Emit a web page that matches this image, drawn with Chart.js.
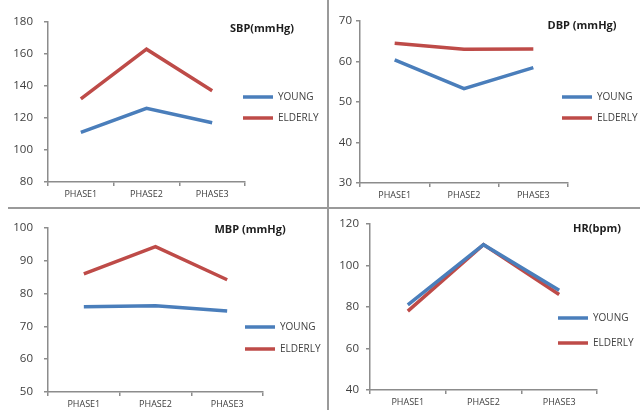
<!DOCTYPE html>
<html>
<head>
<meta charset="utf-8">
<script src="https://cdn.jsdelivr.net/npm/chart.js@4.4.1/dist/chart.umd.min.js"></script>
<style>
  html, body { margin: 0; padding: 0; background: #fff; }
  #app { position: relative; width: 640px; height: 410px; overflow: hidden; background: #fff; }
  #app canvas { position: absolute; }
  .sep { position: absolute; background: #9a9a9a; }
</style>
</head>
<body>
<div id="app">
  <canvas id="c-sbp" width="326" height="206" style="left:0;top:0"></canvas>
  <canvas id="c-dbp" width="310" height="206" style="left:330px;top:0"></canvas>
  <canvas id="c-mbp" width="326" height="200" style="left:0;top:210px"></canvas>
  <canvas id="c-hr" width="310" height="200" style="left:330px;top:210px"></canvas>
  <div class="sep" style="left:327px;top:0;width:2px;height:410px"></div>
  <div class="sep" style="left:8px;top:207px;width:632px;height:2px"></div>
</div>
<script>
// values
const phases = ["PHASE1", "PHASE2", "PHASE3"];
const groups = ["YOUNG", "ELDERLY"];

const sbpYoung = [111, 126, 117];
const sbpElderly = [132, 163, 137];
const sbpTicks = [80, 180, 20];

const dbpYoung = [60.4, 53.3, 58.5];
const dbpElderly = [64.5, 63, 63.1];
const dbpTicks = [30, 70, 10];

const mbpYoung = [76, 76.3, 74.7];
const mbpElderly = [86, 94.3, 84.2];
const mbpTicks = [50, 100, 10];

const hrYoung = [81, 110, 88];
const hrElderly = [78, 110, 86];
const hrTicks = [40, 120, 20];

const BLUE = "#4a7ebb";
const RED = "#be4b48";
const AXIS = "#8c8c8c";
const TEXT = "#404040";
const FONT = "'Open Sans', 'Liberation Sans', sans-serif";
const LEGEND_W = 40;

// moves the legend onto the spot it has in the picture and writes the panel title
const panelPlugin = {
  id: "panel",
  afterLayout(chart, args, opts) {
    const lg = chart.legend;
    if (!lg || !opts.legendAt) return;
    const pad = chart.options.plugins.legend.labels.padding;
    const fs = chart.options.plugins.legend.labels.font.size;
    const dx = opts.legendAt[0] - (lg.left + pad);
    const dy = opts.legendAt[1] - (lg.top + pad + fs / 2);
    lg.left += dx;
    lg.right = chart.width;
    lg.width = lg.right - lg.left;
    lg.top += dy; lg.bottom += dy;
  },
  afterDraw(chart, args, opts) {
    if (!opts.title) return;
    const ctx = chart.ctx;
    ctx.save();
    ctx.font = "bold 11px " + FONT;
    ctx.fillStyle = "#1e1e1e";
    ctx.textAlign = "center";
    ctx.textBaseline = "middle";
    ctx.fillText(opts.title, opts.titleAt[0], opts.titleAt[1]);
    ctx.restore();
  },
};

function makePanel(id, title, young, elderly, ticks, g) {
  const canvas = document.getElementById(id);
  const W = canvas.width, H = canvas.height;
  return new Chart(canvas, {
    type: "line",
    data: {
      labels: phases,
      datasets: [
        { label: groups[0], data: young, borderColor: BLUE, backgroundColor: BLUE },
        { label: groups[1], data: elderly, borderColor: RED, backgroundColor: RED },
      ],
    },
    options: {
      responsive: false,
      animation: false,
      events: [],
      elements: {
        line: { borderWidth: 3.5, tension: 0, borderCapStyle: "butt" },
        point: { radius: 0, hoverRadius: 0, borderWidth: 3.5 },
      },
      layout: { padding: { left: 0, top: g.top, right: W - g.right - LEGEND_W, bottom: 0 } },
      plugins: {
        tooltip: { enabled: false },
        legend: {
          position: "right",
          align: "start",
          maxWidth: LEGEND_W,
          labels: {
            usePointStyle: true,
            pointStyle: "line",
            pointStyleWidth: 30,
            padding: g.gap - 10,
            color: TEXT,
            font: { family: FONT, size: 10 },
          },
        },
        panel: { title, titleAt: g.titleAt, legendAt: g.legendAt },
      },
      scales: {
        x: {
          offset: true,
          afterFit: (s) => { s.height = H - g.bottom; },
          border: { color: AXIS, width: 1.5 },
          grid: { drawOnChartArea: false, offset: true, tickLength: 4, color: AXIS, lineWidth: 1.5 },
          ticks: { color: TEXT, padding: 3, font: { family: FONT, size: 9 } },
        },
        y: {
          min: ticks[0],
          max: ticks[1],
          afterFit: (s) => { s.width = g.left; },
          border: { color: AXIS, width: 1.5 },
          grid: { drawOnChartArea: false, tickLength: 4, color: AXIS, lineWidth: 1.5 },
          ticks: { stepSize: ticks[2], color: TEXT, padding: g.tickPad, font: { family: FONT, size: 11.5 } },
        },
      },
    },
    plugins: [panelPlugin],
  });
}

makePanel("c-sbp", "SBP(mmHg)", sbpYoung, sbpElderly, sbpTicks,
  { left: 48, right: 245, top: 22, bottom: 182, tickPad: 11, gap: 21, legendAt: [243, 97], titleAt: [262, 29] });
makePanel("c-dbp", "DBP (mmHg)", dbpYoung, dbpElderly, dbpTicks,
  { left: 30, right: 238, top: 21, bottom: 183, tickPad: 4, gap: 21, legendAt: [232, 97], titleAt: [252, 26] });
makePanel("c-mbp", "MBP (mmHg)", mbpYoung, mbpElderly, mbpTicks,
  { left: 48, right: 263, top: 15, bottom: 182, tickPad: 11, gap: 22, legendAt: [245, 117], titleAt: [250, 20] });
makePanel("c-hr", "HR(bpm)", hrYoung, hrElderly, hrTicks,
  { left: 40, right: 267, top: 10, bottom: 180, tickPad: 7, gap: 25, legendAt: [228, 108], titleAt: [267, 19] });
</script>
</body>
</html>
